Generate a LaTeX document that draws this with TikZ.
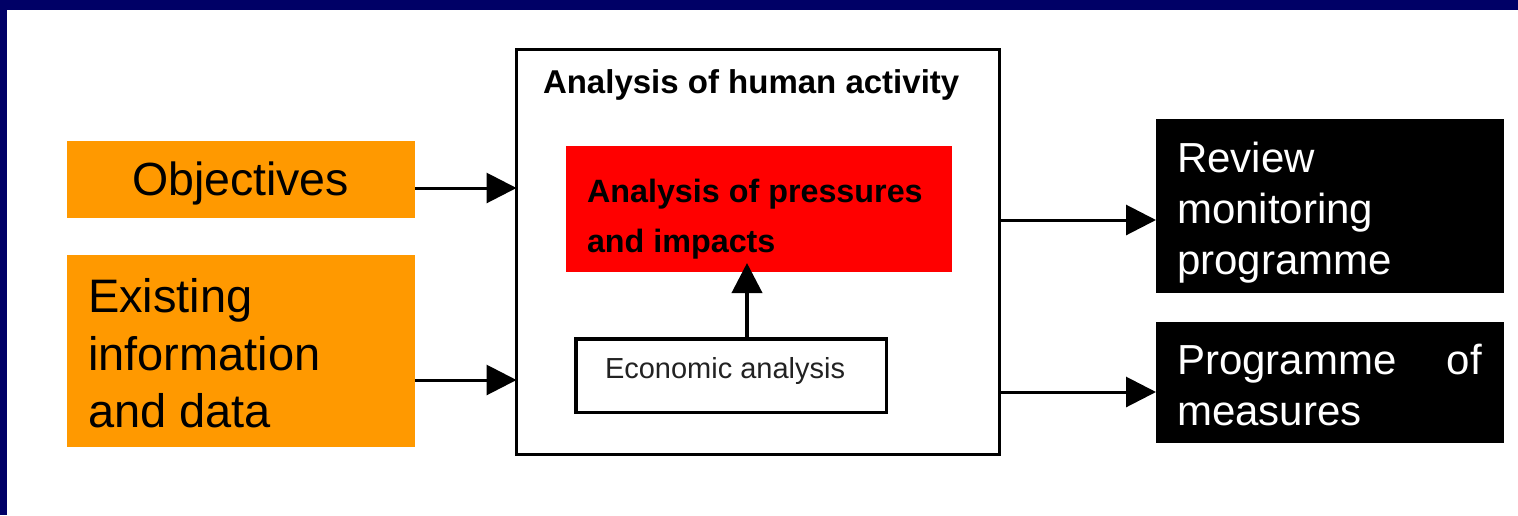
\documentclass[tikz,border=0pt]{standalone}
\usepackage{fontspec}
\setmainfont{Liberation Sans}
\usetikzlibrary{arrows.meta}
\definecolor{navy}{HTML}{000066}
\definecolor{orng}{HTML}{FF9900}
\definecolor{econgray}{HTML}{222222}
\newcommand{\fs}[1]{\fontsize{#1}{#1}\selectfont}
\tikzset{
  box/.style={rectangle, inner sep=0pt, outer sep=0pt},
  obox/.style={box, fill=orng},
  kbox/.style={box, fill=black},
  txt/.style={inner sep=0pt, outer sep=0pt, anchor=base west},
  arr/.style={line width=3pt, -{Triangle[length=30pt,width=30pt]}},
}
\begin{document}
\begin{tikzpicture}[x=1pt,y=-1pt]
\useasboundingbox (0,0) rectangle (1518,515);
\fill[white] (0,0) rectangle (1518,515);
% navy frame
\fill[navy] (0,0) rectangle (1518,10);
\fill[navy] (0,0) rectangle (7,515);

% left boxes
\node[obox, minimum width=348pt, minimum height=77pt] (obj) at (241,179.5) {};
\node[obox, minimum width=348pt, minimum height=192pt] (exist) at (241,351) {};

% main box
\node[box, draw=black, line width=3pt, minimum width=483pt, minimum height=405pt] (main) at (758,251.5) {};
\node[box, fill=red, minimum width=386pt, minimum height=126pt] (press) at (759,209) {};
\node[box, draw=black, line width=3.5pt, fill=white, minimum width=310.5pt, minimum height=73.5pt] (econ) at (731,375.5) {};

% right boxes
\node[kbox, minimum width=348pt, minimum height=174pt] (rev) at (1330,206) {};
\node[kbox, minimum width=348pt, minimum height=121pt] (pom) at (1330,382.5) {};

% connector levels
\coordinate (l1) at (0,188);
\coordinate (l2) at (0,380);
\coordinate (r1) at (0,220);
\coordinate (r2) at (0,392);
\coordinate (up) at (747,263);

\draw[arr] (obj.east |- l1) -- (main.west |- l1);
\draw[arr] (exist.east |- l2) -- (main.west |- l2);
\draw[arr] (main.east |- r1) -- (rev.west |- r1);
\draw[arr] (main.east |- r2) -- (pom.west |- r2);
\draw[line width=4pt, -{Triangle[length=30pt,width=30pt]}] (econ.north -| up) -- (up);

% texts
\node[txt] (t1) at (543,93) {\fs{33}\bfseries Analysis of human activity};
\node[txt] (t2) at (587,202) {\fs{32.3}\bfseries Analysis of pressures};
\node[txt] (t3) at (587,252) {\fs{32.3}\bfseries and impacts};
\node[txt, text=econgray] (t4) at (605,378) {\fs{29}Economic analysis};

\node[txt] (t5) at (132,195) {\fs{46.5}Objectives};
\node[txt] (t6) at (88,312) {\fs{47}Existing};
\node[txt] (t7) at (88,370) {\fs{47}information};
\node[txt] (t8) at (88,427) {\fs{47}and data};

\node[txt, text=white] (t9) at (1177,172) {\fs{42}Review};
\node[txt, text=white] (t10) at (1177,223) {\fs{42}monitoring};
\node[txt, text=white] (t11) at (1177,274) {\fs{42}programme};
\node[txt, text=white] (t12) at (1177,374) {\fs{42}Programme};
\node[txt, text=white, anchor=base east] (t13) at (1482,374) {\fs{42}of};
\node[txt, text=white] (t14) at (1177,425) {\fs{42}measures};
\end{tikzpicture}
\end{document}
